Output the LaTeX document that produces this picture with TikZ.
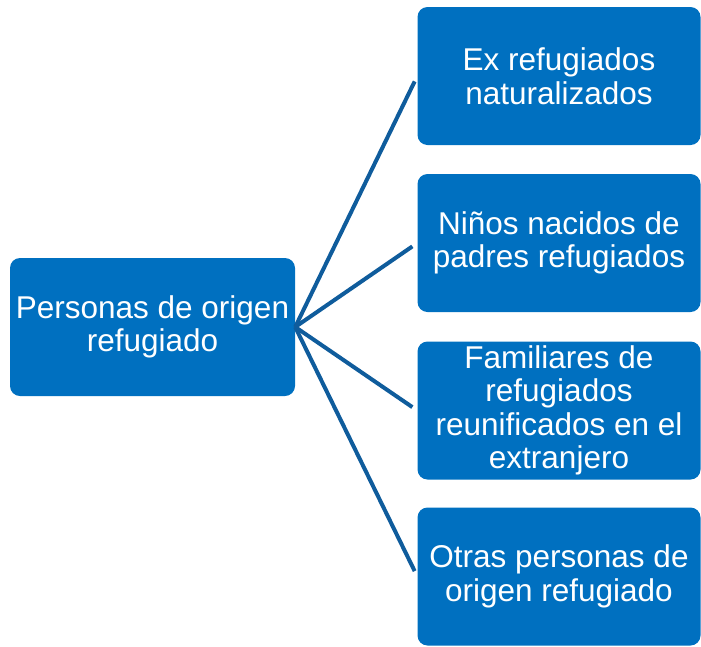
\documentclass[tikz,border=0pt]{standalone}
\usepackage{fontspec}
\setmainfont{Liberation Sans}
\usepackage{xcolor}
\definecolor{boxblue}{HTML}{0070C0}
\definecolor{lineblue}{HTML}{0F5C9C}
\usetikzlibrary{positioning}

\begin{document}
\begin{tikzpicture}[
    x=1pt, y=-1pt,
    box/.style={rectangle, rounded corners=10pt, fill=boxblue, text=white,
        minimum width=283pt, minimum height=138pt, align=center,
        font=\fontsize{31.5}{33.5}\selectfont, inner sep=0pt},
    link/.style={draw=lineblue, line width=4pt, shorten >=6pt}
]
\useasboundingbox (0,0) rectangle (701,646);

% Cajas
\node[box, minimum width=285pt] (root) at (152.5,327) {Personas de origen\\refugiado};
\node[box] (ex) at (559,76) {Ex refugiados\\naturalizados};
\node[box] (ninos) at (559,243) {Niños nacidos de\\padres refugiados};
\node[box] (fam) at (559,410.5) {Familiares de\\refugiados\\reunificados en el\\extranjero};
\node[box] (otras) at (559,576.5) {Otras personas de\\origen refugiado};

% Líneas
\draw[link] (root.east) -- (ex.west);
\draw[link] (root.east) -- (ninos.west);
\draw[link] (root.east) -- (fam.west);
\draw[link] (root.east) -- (otras.west);

\end{tikzpicture}
\end{document}
